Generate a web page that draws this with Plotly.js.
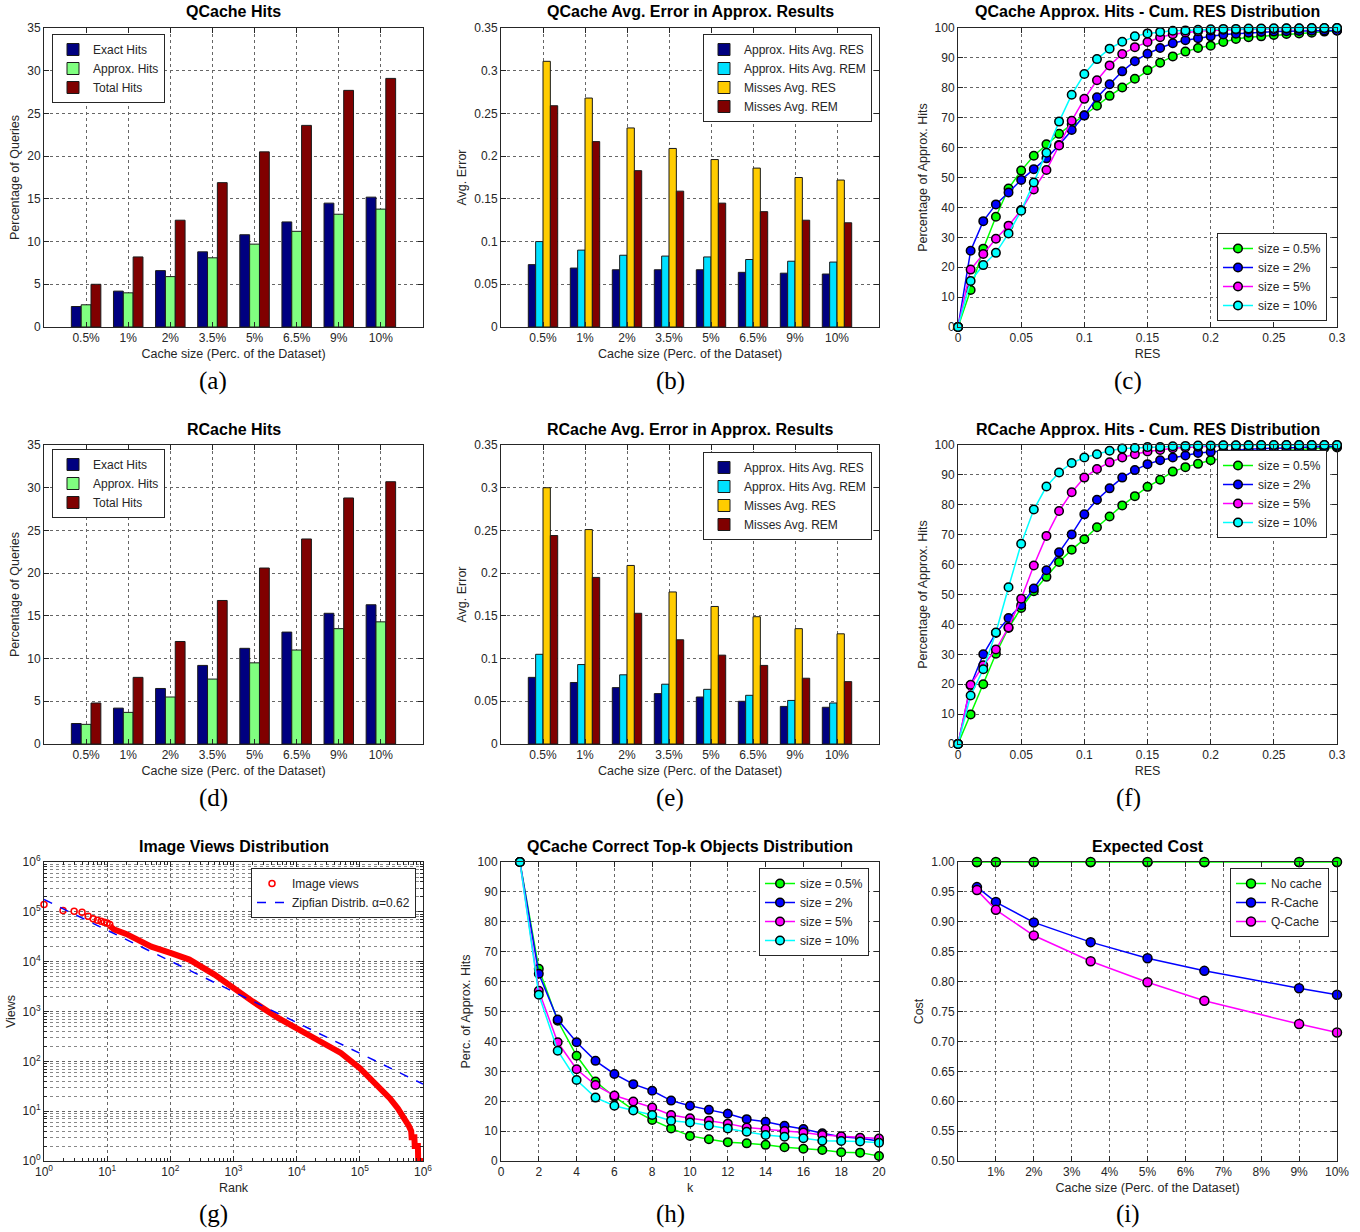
<!DOCTYPE html>
<html><head><meta charset="utf-8">
<script src="https://cdn.plot.ly/plotly-3.0.1.min.js"></script>
<style>html,body{margin:0;padding:0;background:#fff;} #chart{width:1360px;height:1232px;}</style>
</head><body><div id="chart"></div>
<script>
// ---------------- DATA ----------------
const cacheSizes = ['0.5%','1%','2%','3.5%','5%','6.5%','9%','10%'];
// (a) QCache hits
const qExact  = [2.4, 4.2, 6.6, 8.8, 10.8, 12.3, 14.5, 15.2];
const qApprox = [2.6, 4.0, 5.9, 8.1, 9.7, 11.2, 13.2, 13.8];
const qTotal  = [5.0, 8.2, 12.5, 16.9, 20.5, 23.6, 27.7, 29.1];
// (b) QCache avg error
const qHitRES  = [0.073, 0.069, 0.067, 0.067, 0.067, 0.064, 0.063, 0.062];
const qHitREM  = [0.100, 0.090, 0.084, 0.083, 0.082, 0.079, 0.077, 0.076];
const qMissRES = [0.311, 0.268, 0.233, 0.209, 0.196, 0.186, 0.175, 0.172];
const qMissREM = [0.259, 0.217, 0.183, 0.159, 0.145, 0.135, 0.125, 0.122];
// (d) RCache hits
const rExact  = [2.4, 4.2, 6.5, 9.2, 11.2, 13.1, 15.3, 16.3];
const rApprox = [2.3, 3.7, 5.5, 7.6, 9.5, 11.0, 13.5, 14.3];
const rTotal  = [4.8, 7.8, 12.0, 16.8, 20.6, 24.0, 28.8, 30.7];
// (e) RCache avg error
const rHitRES  = [0.078, 0.072, 0.066, 0.059, 0.055, 0.050, 0.044, 0.043];
const rHitREM  = [0.105, 0.093, 0.081, 0.070, 0.064, 0.057, 0.051, 0.048];
const rMissRES = [0.300, 0.251, 0.209, 0.178, 0.161, 0.149, 0.135, 0.129];
const rMissREM = [0.244, 0.195, 0.153, 0.122, 0.104, 0.092, 0.077, 0.073];
// (c),(f) cumulative RES distribution
const resSteps = [0,0.01,0.02,0.03,0.04,0.05,0.06,0.07,0.08,0.09,0.10,0.11,0.12,0.13,0.14,0.15,0.16,0.17,0.18,0.19,0.20,0.21,0.22,0.23,0.24,0.25,0.26,0.27,0.28,0.29,0.30];
const qCum05 = [0,12.4,26.2,36.9,46.3,52.3,57.3,61.1,64.6,67.8,70.8,74.0,77.3,80.1,83.0,85.9,88.4,90.5,92.1,93.3,94.1,95.3,96.3,96.9,97.2,97.7,98.0,98.2,98.4,98.8,99.1];
const qCum2  = [0,25.5,35.4,41.0,45.0,49.2,52.8,56.4,60.9,65.9,70.7,76.8,81.2,85.5,88.9,91.4,93.3,94.9,95.9,96.6,97.2,97.8,98.1,98.4,98.7,98.8,98.9,99.0,99.1,99.2,99.2];
const qCum5  = [0,19.2,24.4,29.5,33.9,39.1,46.0,52.5,60.7,69.0,76.3,82.5,87.5,91.3,93.6,95.3,96.9,97.9,98.5,98.9,99.2,99.4,99.5,99.6,99.7,99.7,99.8,99.8,99.9,99.9,100];
const qCum10 = [0,15.4,20.7,24.8,31.3,38.9,48.3,58.3,68.7,77.7,84.6,89.6,93.1,95.4,97.2,98.2,98.7,99.1,99.2,99.4,99.6,99.7,99.7,99.8,99.8,99.9,99.9,99.9,100,100,100];
const rCum05 = [0,9.9,20.0,30.2,38.8,45.5,51.1,55.9,60.9,65.0,68.5,72.5,76.1,79.8,82.9,86.0,88.4,91.1,92.6,93.7,94.9,95.5,96.2,96.8,97.3,97.8,98.2,98.5,98.8,99.0,99.2];
const rCum2  = [0,19.6,30.0,37.1,42.1,46.4,52.0,58.1,64.1,70.1,76.8,81.7,85.5,89.1,91.6,93.6,94.9,95.8,96.5,97.3,97.7,98.0,98.3,98.6,98.8,99.0,99.1,99.2,99.3,99.4,99.5];
const rCum5  = [0,19.8,26.3,31.6,39.0,48.6,59.7,69.6,77.9,84.2,89.1,92.0,94.2,95.8,96.9,97.8,98.3,98.9,99.2,99.4,99.7,99.8,99.8,99.9,99.9,99.9,100,100,100,100,100];
const rCum10 = [0,16.2,25.0,37.3,52.4,67.0,78.4,86.1,90.8,94.0,95.8,96.9,98.1,98.8,99.0,99.3,99.3,99.6,99.7,99.8,99.8,99.9,99.9,99.9,100,100,100,100,100,100,100];
// (g) image views distribution
const viewRankTop = [1,2,3,4,5,6,7,8,9,10,11];
const viewTop     = [140000,106000,103000,98000,82000,73000,68000,65000,62000,60000,56000];
const viewRankDense = [11,13,20,50,100,200,500,1000,2000,5000,10000,20000,50000,100000,200000,300000,400000,500000,600000,650000,660000,730000,740000,830000,840000,1000000];
const viewDense     = [52000,44000,36000,20000,15000,11000,5500,2900,1600,750,455,277,147,73,31,18,11.3,7.6,5,4,3,3,2,2,1,1];
const zipfRank  = [1, 1000000];
const zipfViews = [177000, 35];
const logTickVals = [1,10,100,1000,10000,100000,1000000];
const logTickText = ['10<sup>0</sup>','10<sup>1</sup>','10<sup>2</sup>','10<sup>3</sup>','10<sup>4</sup>','10<sup>5</sup>','10<sup>6</sup>'];
// (h) correct top-k
const topK = [1,2,3,4,5,6,7,8,9,10,11,12,13,14,15,16,17,18,19,20];
const topk05 = [100,64.3,46.9,35.2,26.6,21.5,17.1,13.7,10.9,8.4,7.3,6.3,5.9,5.4,4.6,4.1,3.7,2.9,2.8,1.7];
const topk2  = [100,62.6,47.3,39.7,33.5,29.1,25.7,23.5,20.2,18.5,17.1,15.8,14.0,13.1,11.8,10.7,9.3,8.1,7.6,6.7];
const topk5  = [100,56.9,39.7,30.7,25.4,21.9,19.9,17.9,15.4,14.3,13.5,12.5,11.2,10.7,10.0,9.5,8.7,8.3,7.8,7.5];
const topk10 = [100,55.6,36.9,27.1,21.2,18.5,16.9,15.4,13.5,12.9,11.9,10.9,9.8,8.7,8.1,7.6,6.8,6.7,6.5,6.1];
// (i) expected cost
const costSizes = [0.5,1,2,3.5,5,6.5,9,10];
const costNoCache = [1,1,1,1,1,1,1,1];
const costRCache  = [0.958,0.933,0.899,0.866,0.839,0.818,0.789,0.778];
const costQCache  = [0.953,0.920,0.877,0.834,0.799,0.768,0.729,0.715];
const costTickVals = [1,2,3,4,5,6,7,8,9,10];
const costTickText = ['1%','2%','3%','4%','5%','6%','7%','8%','9%','10%'];

const panelTitles = ['QCache Hits','QCache Avg. Error in Approx. Results','QCache Approx. Hits - Cum. RES Distribution',
  'RCache Hits','RCache Avg. Error in Approx. Results','RCache Approx. Hits - Cum. RES Distribution',
  'Image Views Distribution','QCache Correct Top-k Objects Distribution','Expected Cost'];
const panelLabels = ['(a)','(b)','(c)','(d)','(e)','(f)','(g)','(h)','(i)'];
const hitNames = ['Exact Hits','Approx. Hits','Total Hits'];
const errNames = ['Approx. Hits Avg. RES','Approx. Hits Avg. REM','Misses Avg. RES','Misses Avg. REM'];
const sizeNames = ['size = 0.5%','size = 2%','size = 5%','size = 10%'];
const costNames = ['No cache','R-Cache','Q-Cache'];

// ---------------- STYLE / LAYOUT ----------------
const W = 1360, H = 1232;
const FONT = 'Liberation Sans, Arial, sans-serif';
const TXT = '#262626';
const colsPx = [[44,423],[501,879],[958,1337]];
const rowsPx = [[28,327],[445,744],[862,1161]];
const px2x = p => p / W;
const px2y = p => 1 - p / H;
const hitColors = ['#000080','#80ff80','#800000'];
const errColors = ['#000080','#00e0ff','#ffcc00','#800000'];
const lineColors = ['#00ff00','#0000ff','#ff00ff','#00ffff'];

function axis(extra){
  return Object.assign({
    showline:true, mirror:'ticks', linecolor:TXT, linewidth:1,
    ticks:'inside', ticklen:5, tickwidth:1, tickcolor:TXT,
    showgrid:true, gridcolor:'#666', griddash:'dot', gridwidth:1,
    zeroline:false, fixedrange:true,
    tickfont:{family:FONT,size:12,color:TXT}
  }, extra);
}
function atitle(t){ return {text:t, font:{family:FONT,size:12.5,color:TXT}, standoff:4}; }

const layout = {
  width:W, height:H, margin:{l:0,r:0,t:0,b:0},
  paper_bgcolor:'#fff', plot_bgcolor:'#fff',
  barmode:'group', bargap:0.3, bargroupgap:0,
  showlegend:true, annotations:[]
};
const traces = [];

for(let i=0;i<9;i++){
  const r = Math.floor(i/3), c = i%3;
  const n = i===0 ? '' : String(i+1);
  const dx = [px2x(colsPx[c][0]), px2x(colsPx[c][1])];
  const dy = [px2y(rowsPx[r][1]), px2y(rowsPx[r][0])];
  layout['xaxis'+n] = axis({domain:dx, anchor:'y'+n});
  layout['yaxis'+n] = axis({domain:dy, anchor:'x'+n});
  layout.annotations.push({xref:'paper',yref:'paper',x:(dx[0]+dx[1])/2,y:px2y(rowsPx[r][0]-16),
    xanchor:'center',yanchor:'middle',showarrow:false,
    text:'<b>'+panelTitles[i]+'</b>',font:{family:FONT,size:16,color:'#000'}});
  const labX = [213,670,1128][c];
  const labY = [381,798,1214][r];
  layout.annotations.push({xref:'paper',yref:'paper',x:px2x(labX),y:px2y(labY),
    xanchor:'center',yanchor:'middle',showarrow:false,
    text:panelLabels[i],font:{family:'Liberation Serif, DejaVu Serif, serif',size:25,color:'#000'}});
}

function legendStyle(xpx, ypx, anchor){
  return {x:px2x(xpx), y:px2y(ypx), xanchor:'left', yanchor:anchor||'top',
    bgcolor:'#fff', bordercolor:TXT, borderwidth:1, tracegroupgap:0,
    font:{family:FONT,size:12,color:TXT}, itemclick:false, itemdoubleclick:false};
}
layout.legend  = legendStyle(52,34);
layout.legend2 = legendStyle(703,34);
layout.legend3 = legendStyle(1217,321,'bottom');
layout.legend4 = legendStyle(52,449);
layout.legend5 = legendStyle(703,452);
layout.legend6 = legendStyle(1217,450);
layout.legend7 = legendStyle(251,868);
layout.legend8 = legendStyle(759,868);
layout.legend9 = legendStyle(1230,868);

// Bars (a),(d)
function hitBars(series, ax, leg){
  series.forEach((ys,k)=>{
    traces.push({type:'bar', x:cacheSizes, y:ys, name:hitNames[k], xaxis:'x'+ax, yaxis:'y'+ax, legend:leg,
      marker:{color:hitColors[k], line:{color:'#1a1a1a', width:1}}});
  });
}
function errBars(series, ax, leg){
  series.forEach((ys,k)=>{
    traces.push({type:'bar', x:cacheSizes, y:ys, name:errNames[k], xaxis:'x'+ax, yaxis:'y'+ax, legend:leg,
      marker:{color:errColors[k], line:{color:'#1a1a1a', width:1}}});
  });
}
hitBars([qExact,qApprox,qTotal], '', 'legend');
errBars([qHitRES,qHitREM,qMissRES,qMissREM], '2', 'legend2');
hitBars([rExact,rApprox,rTotal], '4', 'legend4');
errBars([rHitRES,rHitREM,rMissRES,rMissREM], '5', 'legend5');

function lineSeries(xs, series, names, ax, leg){
  series.forEach((ys,k)=>{
    traces.push({type:'scatter', mode:'lines+markers', x:xs, y:ys, name:names[k], xaxis:'x'+ax, yaxis:'y'+ax, legend:leg,
      cliponaxis:false,
      line:{color:lineColors[k], width:1.5},
      marker:{color:lineColors[k], size:8.5, line:{color:'#000', width:1.5}}});
  });
}
lineSeries(resSteps, [qCum05,qCum2,qCum5,qCum10], sizeNames, '3', 'legend3');
lineSeries(resSteps, [rCum05,rCum2,rCum5,rCum10], sizeNames, '6', 'legend6');
lineSeries(topK, [topk05,topk2,topk5,topk10], sizeNames, '8', 'legend8');

// (i)
[costNoCache,costRCache,costQCache].forEach((ys,k)=>{
  const col = ['#00ff00','#0000ff','#ff00ff'][k];
  traces.push({type:'scatter', mode:'lines+markers', x:costSizes, y:ys, name:costNames[k], xaxis:'x9', yaxis:'y9', legend:'legend9',
    cliponaxis:(k!==0) ? false : true, line:{color:col, width:1.5}, marker:{color:col, size:9, line:{color:'#000', width:1.5}}});
});
// unclipped markers for the "No cache" series, which sits on the top edge of the axes
traces.push({type:'scatter', mode:'markers', x:costSizes, y:costNoCache, showlegend:false, xaxis:'x9', yaxis:'y9', legend:'legend9',
  cliponaxis:false, marker:{color:'#00ff00', size:9, line:{color:'#000', width:1.5}}});

// (g)
traces.push({type:'scatter', mode:'lines', x:viewRankDense, y:viewDense, showlegend:false, xaxis:'x7', yaxis:'y7', legend:'legend7',
  cliponaxis:false, line:{color:'#ff0000', width:6}});
traces.push({type:'scatter', mode:'markers', x:viewRankTop, y:viewTop, name:'Image views', xaxis:'x7', yaxis:'y7', legend:'legend7',
  cliponaxis:false, marker:{symbol:'circle-open', color:'#ff0000', size:6, line:{width:1.5}}});
traces.push({type:'scatter', mode:'lines', x:zipfRank, y:zipfViews, name:'Zipfian Distrib. α=0.62', xaxis:'x7', yaxis:'y7', legend:'legend7',
  line:{color:'#0000ff', width:1.5, dash:'dash'}});

// axis specifics
Object.assign(layout.xaxis,  {type:'category', range:[-1,8], title:atitle('Cache size (Perc. of the Dataset)')});
Object.assign(layout.yaxis,  {range:[0,35], dtick:5, title:atitle('Percentage of Queries')});
Object.assign(layout.xaxis2, {type:'category', range:[-1,8], title:atitle('Cache size (Perc. of the Dataset)')});
Object.assign(layout.yaxis2, {range:[0,0.35], dtick:0.05, title:atitle('Avg. Error')});
Object.assign(layout.xaxis3, {range:[0,0.3], dtick:0.05, title:atitle('RES')});
Object.assign(layout.yaxis3, {range:[0,100], dtick:10, title:atitle('Percentage of Approx. Hits')});
Object.assign(layout.xaxis4, {type:'category', range:[-1,8], title:atitle('Cache size (Perc. of the Dataset)')});
Object.assign(layout.yaxis4, {range:[0,35], dtick:5, title:atitle('Percentage of Queries')});
Object.assign(layout.xaxis5, {type:'category', range:[-1,8], title:atitle('Cache size (Perc. of the Dataset)')});
Object.assign(layout.yaxis5, {range:[0,0.35], dtick:0.05, title:atitle('Avg. Error')});
Object.assign(layout.xaxis6, {range:[0,0.3], dtick:0.05, title:atitle('RES')});
Object.assign(layout.yaxis6, {range:[0,100], dtick:10, title:atitle('Percentage of Approx. Hits')});
Object.assign(layout.xaxis7, {type:'log', range:[0,6], tickvals:logTickVals, ticktext:logTickText, title:atitle('Rank'),
  minor:{ticks:'inside', ticklen:3, tickcolor:TXT, dtick:'D1', showgrid:false}});
Object.assign(layout.yaxis7, {type:'log', range:[0,6], tickvals:logTickVals, ticktext:logTickText, title:atitle('Views'),
  minor:{ticks:'inside', ticklen:3, tickcolor:TXT, dtick:'D1', showgrid:true, gridcolor:'#888', griddash:'dot', gridwidth:1}});
Object.assign(layout.xaxis8, {range:[0,20], dtick:2, title:atitle('k')});
Object.assign(layout.yaxis8, {range:[0,100], dtick:10, title:atitle('Perc. of Approx. Hits')});
Object.assign(layout.xaxis9, {range:[0,10], tickvals:costTickVals, ticktext:costTickText, title:atitle('Cache size (Perc. of the Dataset)')});
Object.assign(layout.yaxis9, {range:[0.5,1.0], dtick:0.05, tickformat:'.2f', title:atitle('Cost')});

Plotly.newPlot('chart', traces, layout, {displayModeBar:false, staticPlot:true});
</script></body></html>
